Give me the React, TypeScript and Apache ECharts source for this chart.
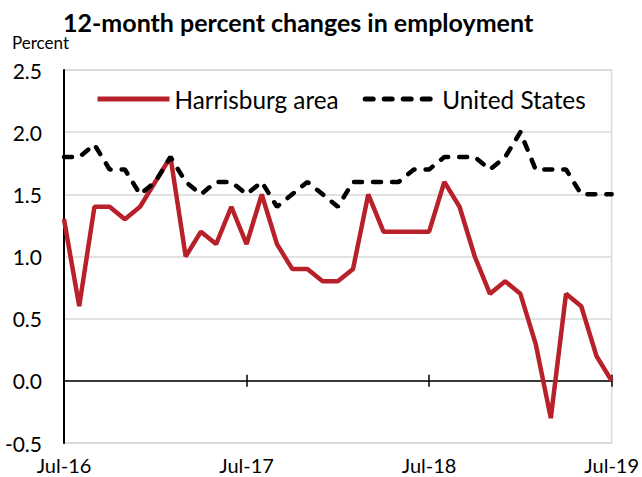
import React, { useEffect, useRef } from "react";
import * as echarts from "echarts";

const months: string[] = [
  "Jul-16", "Aug-16", "Sep-16", "Oct-16", "Nov-16", "Dec-16",
  "Jan-17", "Feb-17", "Mar-17", "Apr-17", "May-17", "Jun-17",
  "Jul-17", "Aug-17", "Sep-17", "Oct-17", "Nov-17", "Dec-17",
  "Jan-18", "Feb-18", "Mar-18", "Apr-18", "May-18", "Jun-18",
  "Jul-18", "Aug-18", "Sep-18", "Oct-18", "Nov-18", "Dec-18",
  "Jan-19", "Feb-19", "Mar-19", "Apr-19", "May-19", "Jun-19",
  "Jul-19",
];

const harrisburg: number[] = [
  1.3, 0.6, 1.4, 1.4, 1.3, 1.4, 1.6, 1.8, 1.0, 1.2, 1.1, 1.4,
  1.1, 1.5, 1.1, 0.9, 0.9, 0.8, 0.8, 0.9, 1.5, 1.2, 1.2, 1.2,
  1.2, 1.6, 1.4, 1.0, 0.7, 0.8, 0.7, 0.3, -0.3, 0.7, 0.6, 0.2,
  0.0,
];

const unitedStates: number[] = [
  1.8, 1.8, 1.9, 1.7, 1.7, 1.5, 1.6, 1.8, 1.6, 1.5, 1.6, 1.6,
  1.5, 1.6, 1.4, 1.5, 1.6, 1.5, 1.4, 1.6, 1.6, 1.6, 1.6, 1.7,
  1.7, 1.8, 1.8, 1.8, 1.7, 1.8, 2.0, 1.7, 1.7, 1.7, 1.5, 1.5,
  1.5,
];

const titleText = "12-month percent changes in employment";
const yUnit = "Percent";

const FONT = "Lato, 'Open Sans', sans-serif";

export default function App() {
  const ref = useRef<HTMLDivElement>(null);
  useEffect(() => {
    if (!ref.current) return;
    const chart = echarts.init(ref.current, undefined, { renderer: "svg" });
    const tickStyle = { color: "#000", width: 1.5 };
    chart.setOption({
      animation: false,
      backgroundColor: "#ffffff",
      textStyle: { fontFamily: FONT },
      title: {
        text: titleText,
        left: 58,
        top: 4,
        textStyle: { fontFamily: FONT, fontSize: 25, fontWeight: "bold", color: "#000" },
      },
      graphic: [
        {
          type: "text",
          left: 12,
          top: 34,
          style: { text: yUnit, fontFamily: FONT, fontSize: 17, fill: "#000" },
        },
      ],
      legend: {
        left: 90,
        top: 82,
        itemWidth: 72,
        itemHeight: 14,
        itemGap: 24,
        itemStyle: { opacity: 0 },
        lineStyle: { width: 5 },
        textStyle: { fontFamily: FONT, fontSize: 24.3, color: "#000" },
        data: ["Harrisburg area", "United States"],
      },
      grid: {
        left: 64,
        top: 70,
        width: 549,
        height: 373,
        show: true,
        borderColor: "#d9d9d9",
        borderWidth: 1.5,
        containLabel: false,
      },
      xAxis: [
        {
          type: "category",
          data: months,
          boundaryGap: false,
          position: "bottom",
          axisLine: { onZero: true, onZeroAxisIndex: 0, lineStyle: { color: "#000", width: 1.5 } },
          axisTick: { show: true, inside: true, length: 6, interval: 11, lineStyle: tickStyle },
          axisLabel: { show: false },
          splitLine: { show: false },
        },
        {
          type: "category",
          data: months,
          boundaryGap: false,
          position: "bottom",
          axisLine: { show: false, onZero: false },
          axisTick: { show: false },
          axisLabel: {
            show: true,
            interval: 11,
            margin: 12,
            fontFamily: FONT,
            fontSize: 20,
            color: "#000",
          },
          splitLine: { show: false },
        },
        {
          type: "category",
          data: months,
          boundaryGap: false,
          position: "bottom",
          axisLine: { show: false, onZero: true, onZeroAxisIndex: 1 },
          axisTick: { show: true, inside: false, length: 6, interval: 11, lineStyle: tickStyle },
          axisLabel: { show: false },
          splitLine: { show: false },
        },
      ],
      yAxis: [
        {
          type: "value",
          min: -0.5,
          max: 2.5,
          interval: 0.5,
          axisLine: { show: true, lineStyle: { color: "#000", width: 2 } },
          axisTick: { show: false },
          axisLabel: {
            margin: 22,
            fontFamily: FONT,
            fontSize: 21,
            color: "#000",
            formatter: (v: number) => v.toFixed(1),
          },
          splitLine: { show: true, lineStyle: { color: "#d9d9d9", width: 1.5 } },
        },
        {
          type: "value",
          min: -0.5,
          max: 2.5,
          interval: 0.5,
          position: "left",
          axisLine: { show: false },
          axisTick: { show: false },
          axisLabel: { show: false },
          splitLine: { show: false },
        },
      ],
      series: [
        {
          name: "Harrisburg area",
          type: "line",
          data: harrisburg,
          xAxisIndex: 0,
          yAxisIndex: 0,
          symbol: "none",
          showSymbol: false,
          lineStyle: { color: "#b8202a", width: 4.5 },
          itemStyle: { color: "#b8202a" },
          z: 2,
        },
        {
          name: "United States",
          type: "line",
          data: unitedStates,
          xAxisIndex: 0,
          yAxisIndex: 0,
          symbol: "none",
          showSymbol: false,
          lineStyle: { color: "#000", width: 4.5, type: [8, 11], cap: "round" },
          itemStyle: { color: "#000" },
          z: 3,
        },
      ],
    });
    return () => chart.dispose();
  }, []);
  return (
    <div
      ref={ref}
      style={{ position: "fixed", left: 0, top: 0, width: 642, height: 477 }}
    />
  );
}
